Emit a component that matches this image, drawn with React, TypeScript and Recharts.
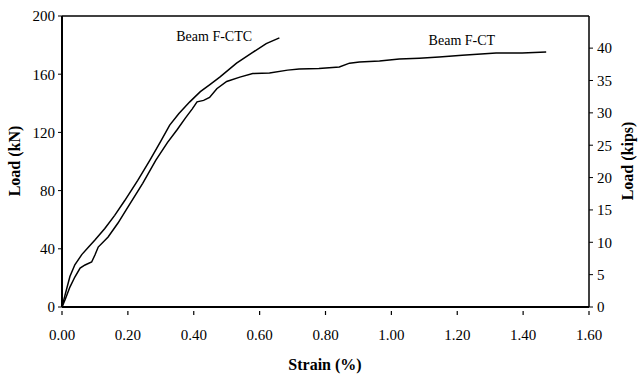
import {
  LineChart,
  Line,
  XAxis,
  YAxis,
  ReferenceLine,
  ReferenceDot,
} from "recharts";

// Beam F-CTC (upper curve, ends near 0.66 %)
const ctcStrain = [0, 0.009, 0.024, 0.039, 0.06, 0.08, 0.1, 0.13, 0.16, 0.19, 0.23, 0.267, 0.3, 0.327, 0.355, 0.388, 0.42, 0.45, 0.479, 0.53, 0.579, 0.62, 0.66];
const ctcLoad = [0, 8, 21, 29, 36, 41, 46, 54, 63, 73, 87, 101, 114, 125, 133, 141, 148, 153, 158, 167.6, 175, 181, 185];

// Beam F-CT (lower curve, long plateau)
const ctStrain = [0, 0.009, 0.024, 0.039, 0.055, 0.07, 0.09, 0.1, 0.11, 0.14, 0.17, 0.2, 0.245, 0.285, 0.32, 0.35, 0.375, 0.395, 0.41, 0.43, 0.448, 0.47, 0.5, 0.54, 0.579, 0.63, 0.685, 0.72, 0.78, 0.842, 0.873, 0.903, 0.964, 1.024, 1.085, 1.145, 1.215, 1.318, 1.397, 1.47];
const ctLoad = [0, 4.8, 13.7, 20.6, 26.8, 28.9, 30.9, 35.7, 41.2, 48.1, 57.7, 68.7, 85, 101, 113, 122, 130, 136, 141, 142, 144, 150, 155, 158, 160.5, 160.8, 162.8, 163.5, 164, 165, 167.6, 168.3, 169, 170.4, 171, 171.8, 173, 174.5, 174.5, 175.2];

const strainTicks = [0, 0.2, 0.4, 0.6, 0.8, 1.0, 1.2, 1.4, 1.6];
const kNTicks = [0, 40, 80, 120, 160, 200];
const kipsTicks = [0, 5, 10, 15, 20, 25, 30, 35, 40];
const KN_PER_KIP = 4.448;

const labels = [
  { text: "Beam F-CTC", strain: 0.462, load: 186 },
  { text: "Beam F-CT", strain: 1.214, load: 183.4 },
];

const FONT = "'Liberation Serif', 'Times New Roman', serif";

const ctcData = ctcStrain.map((s, i) => ({ strain: s, load: ctcLoad[i] }));
const ctData = ctStrain.map((s, i) => ({ strain: s, load: ctLoad[i], kips: ctLoad[i] / KN_PER_KIP }));

function StrainTick(props: any) {
  const { x, y, payload } = props;
  return (
    <g>
      <line x1={x} y1={y} x2={x} y2={y - 4} stroke="#000" strokeWidth={1.2} />
      <text x={x} y={y + 25} textAnchor="middle" fontFamily={FONT} fontSize={15} fill="#000">
        {payload.value.toFixed(2)}
      </text>
    </g>
  );
}

export default function App() {
  return (
    <div style={{ position: "absolute", left: 0, top: 0, background: "#fff" }}>
      <LineChart width={643} height={377} margin={{ top: 16, right: 0, left: 0, bottom: 0 }}>
        <XAxis
          dataKey="strain"
          type="number"
          domain={[0, 1.6]}
          ticks={strainTicks}
          tick={<StrainTick />}
          tickLine={false}
          axisLine={{ stroke: "#000", strokeWidth: 2 }}
          height={70}
          allowDuplicatedCategory={false}
          label={{
            content: () => (
              <text x={325} y={370} textAnchor="middle" fontFamily={FONT} fontSize={16} fontWeight="bold" fill="#000">
                Strain (%)
              </text>
            ),
          }}
        />
        <YAxis
          yAxisId="kN"
          domain={[0, 200]}
          ticks={kNTicks}
          width={62}
          tickSize={4}
          tickMargin={3}
          tickLine={{ stroke: "#000" }}
          axisLine={{ stroke: "#000", strokeWidth: 2 }}
          tick={{ fontFamily: FONT, fontSize: 15, fill: "#000" }}
          label={{
            content: () => (
              <text
                x={20}
                y={161}
                transform="rotate(-90 20 161)"
                textAnchor="middle"
                fontFamily={FONT}
                fontSize={16}
                fontWeight="bold"
                fill="#000"
              >
                Load (kN)
              </text>
            ),
          }}
        />
        <YAxis
          yAxisId="kips"
          orientation="right"
          domain={[0, 200 / KN_PER_KIP]}
          allowDataOverflow
          ticks={kipsTicks}
          width={54}
          tickSize={4}
          tickMargin={4}
          tickLine={{ stroke: "#000" }}
          axisLine={{ stroke: "#000", strokeWidth: 1.5 }}
          tick={{ fontFamily: FONT, fontSize: 15, fill: "#000" }}
          label={{
            content: () => (
              <text
                x={633}
                y={161}
                transform="rotate(-90 633 161)"
                textAnchor="middle"
                fontFamily={FONT}
                fontSize={16}
                fontWeight="bold"
                fill="#000"
              >
                Load (kips)
              </text>
            ),
          }}
        />
        <ReferenceLine yAxisId="kN" y={200} stroke="#000" strokeWidth={1.5} ifOverflow="visible" />
        <Line
          yAxisId="kN"
          data={ctcData}
          dataKey="load"
          type="linear"
          stroke="#000"
          strokeWidth={1.5}
          dot={false}
          isAnimationActive={false}
        />
        <Line
          yAxisId="kN"
          data={ctData}
          dataKey="load"
          type="linear"
          stroke="#000"
          strokeWidth={1.5}
          dot={false}
          isAnimationActive={false}
        />
        {/* same F-CT curve in kips, invisible, so the right axis is drawn */}
        <Line
          yAxisId="kips"
          data={ctData}
          dataKey="kips"
          type="linear"
          stroke="none"
          dot={false}
          activeDot={false}
          isAnimationActive={false}
        />
        {labels.map((l) => (
          <ReferenceDot
            key={l.text}
            yAxisId="kN"
            x={l.strain}
            y={l.load}
            r={0}
            stroke="none"
            fill="none"
            label={{ value: l.text, position: "center", fontFamily: FONT, fontSize: 14, fill: "#000" }}
          />
        ))}
      </LineChart>
    </div>
  );
}
